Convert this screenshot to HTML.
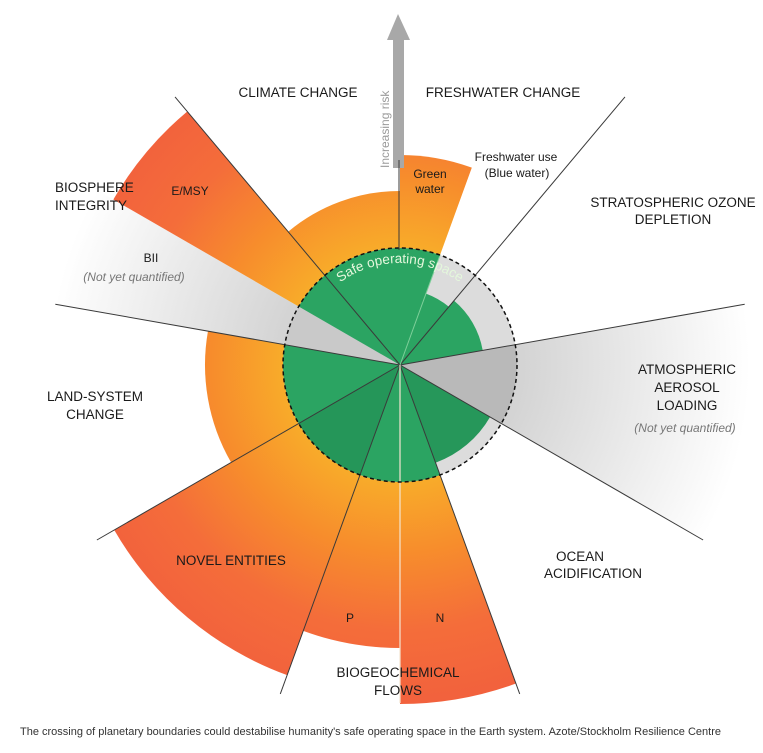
<!DOCTYPE html>
<html><head><meta charset="utf-8"><style>
html,body{margin:0;padding:0;background:#fff;width:763px;height:753px;overflow:hidden}
svg{display:block}
text{font-family:"Liberation Sans",sans-serif;fill:#1a1a1a}
.l{font-size:13.5px}
.s{font-size:12px}
.it{font-size:12px;font-style:italic;fill:#777}
</style></head><body>
<svg id="s" width="763" height="753" viewBox="0 0 763 753" xmlns="http://www.w3.org/2000/svg">
<defs>
<radialGradient id="og" gradientUnits="userSpaceOnUse" cx="400" cy="365" r="340">
<stop offset="0.34" stop-color="#f8ac2a"/>
<stop offset="0.55" stop-color="#f78d2c"/>
<stop offset="0.78" stop-color="#f46d3a"/>
<stop offset="1" stop-color="#f2613d"/>
</radialGradient>
<radialGradient id="gg" gradientUnits="userSpaceOnUse" cx="400" cy="365" r="350">
<stop offset="0" stop-color="#bdbdbd"/>
<stop offset="0.35" stop-color="#d4d4d4"/>
<stop offset="1" stop-color="#ffffff"/>
</radialGradient>
</defs>
<g id="g"></g>
<rect x="393" y="38" width="11" height="130" fill="#a8a8a8"/>
<polygon points="398,14 387,40 410,40" fill="#a8a8a8"/>
<line x1="399" y1="160" x2="399" y2="250" stroke="#3a3a3a" stroke-width="1"/>
<text transform="translate(389,168) rotate(-90)" font-size="12" style="fill:#9a9a9a">Increasing risk</text>
<text class="l" x="298" y="97" text-anchor="middle">CLIMATE CHANGE</text>
<text class="l" x="503" y="97" text-anchor="middle">FRESHWATER CHANGE</text>
<text class="l" x="55" y="192">BIOSPHERE</text>
<text class="l" x="55" y="210">INTEGRITY</text>
<text class="s" x="190" y="195" text-anchor="middle">E/MSY</text>
<text class="s" x="151" y="262" text-anchor="middle">BII</text>
<text class="it" x="134" y="281" text-anchor="middle">(Not yet quantified)</text>
<text class="s" x="430" y="178" text-anchor="middle">Green</text>
<text class="s" x="430" y="193" text-anchor="middle">water</text>
<text class="s" x="516" y="161" text-anchor="middle">Freshwater use</text>
<text class="s" x="517" y="177" text-anchor="middle">(Blue water)</text>
<text class="l" x="673" y="207" text-anchor="middle">STRATOSPHERIC OZONE</text>
<text class="l" x="673" y="224" text-anchor="middle">DEPLETION</text>
<text class="l" x="687" y="374" text-anchor="middle">ATMOSPHERIC</text>
<text class="l" x="687" y="392" text-anchor="middle">AEROSOL</text>
<text class="l" x="687" y="410" text-anchor="middle">LOADING</text>
<text class="it" x="685" y="432" text-anchor="middle">(Not yet quantified)</text>
<text class="l" x="95" y="401" text-anchor="middle">LAND-SYSTEM</text>
<text class="l" x="95" y="419" text-anchor="middle">CHANGE</text>
<text class="l" x="231" y="565" text-anchor="middle">NOVEL ENTITIES</text>
<text class="l" x="580" y="561" text-anchor="middle">OCEAN</text>
<text class="l" x="593" y="578" text-anchor="middle">ACIDIFICATION</text>
<text class="s" x="350" y="622" text-anchor="middle">P</text>
<text class="s" x="440" y="622" text-anchor="middle">N</text>
<text class="l" x="398" y="677" text-anchor="middle">BIOGEOCHEMICAL</text>
<text class="l" x="398" y="695" text-anchor="middle">FLOWS</text>
<text x="20" y="735" font-size="11" style="fill:#333">The crossing of planetary boundaries could destabilise humanity's safe operating space in the Earth system. Azote/Stockholm Resilience Centre</text>
<defs><path id="arc2" d="M 298 365 A 102 102 0 0 1 502 365" fill="none"/></defs>
<text font-size="13.5" style="fill:#e4f7dc;font-family:'Liberation Sans',sans-serif"><textPath href="#arc2" startOffset="50%" text-anchor="middle">Safe operating space</textPath></text>
</svg>
<script>
var cx=400,cy=365,NS="http://www.w3.org/2000/svg",g=document.getElementById('g');
function P(b,r){var a=b*Math.PI/180;return [cx+r*Math.sin(a),cy-r*Math.cos(a)];}
function sec(b1,b2,r,fill){var p1=P(b1,r),p2=P(b2,r);var e=document.createElementNS(NS,'path');
e.setAttribute('d','M'+cx+' '+cy+' L'+p1[0]+' '+p1[1]+' A'+r+' '+r+' 0 0 1 '+p2[0]+' '+p2[1]+' Z');
e.setAttribute('fill',fill);g.appendChild(e);}
function ln(b,r,c,w){var p=P(b,r);var e=document.createElementNS(NS,'line');
e.setAttribute('x1',cx);e.setAttribute('y1',cy);e.setAttribute('x2',p[0]);e.setAttribute('y2',p[1]);
e.setAttribute('stroke',c);e.setAttribute('stroke-width',w);g.appendChild(e);}
sec(280,300,350,'url(#gg)');sec(80,120,350,'url(#gg)');
sec(0,20,210,'url(#og)');sec(320,360,174,'url(#og)');sec(300,320,331,'url(#og)');
sec(240,280,195,'url(#og)');sec(200,240,330,'url(#og)');sec(180,200,283,'url(#og)');
sec(160,180,339,'url(#og)');
var c=document.createElementNS(NS,'circle');c.setAttribute('cx',cx);c.setAttribute('cy',cy);c.setAttribute('r',117);c.setAttribute('fill','#dcdcdc');g.appendChild(c);
sec(80,120,117,'#b9b9b9');sec(280,300,117,'#c9c9c9');
var G='#2ba462';
sec(0,20,117,G);sec(20,40,76,G);sec(40,80,84,G);sec(120,160,104,'#26975a');
sec(160,280,117,G);sec(300,360,117,G);
sec(200,240,117,'#259659');
[40,80,120,160,200,240,280,320].forEach(function(b){ln(b,350,'#3a3a3a',1);});
ln(180,338,'#f4e4d0',1.2);ln(20,117,'#7fcf9a',1);
var d=document.createElementNS(NS,'circle');d.setAttribute('cx',cx);d.setAttribute('cy',cy);d.setAttribute('r',117);d.setAttribute('fill','none');d.setAttribute('stroke','#111');d.setAttribute('stroke-width',1.5);d.setAttribute('stroke-dasharray','4 3');g.appendChild(d);
</script>
</body></html>
